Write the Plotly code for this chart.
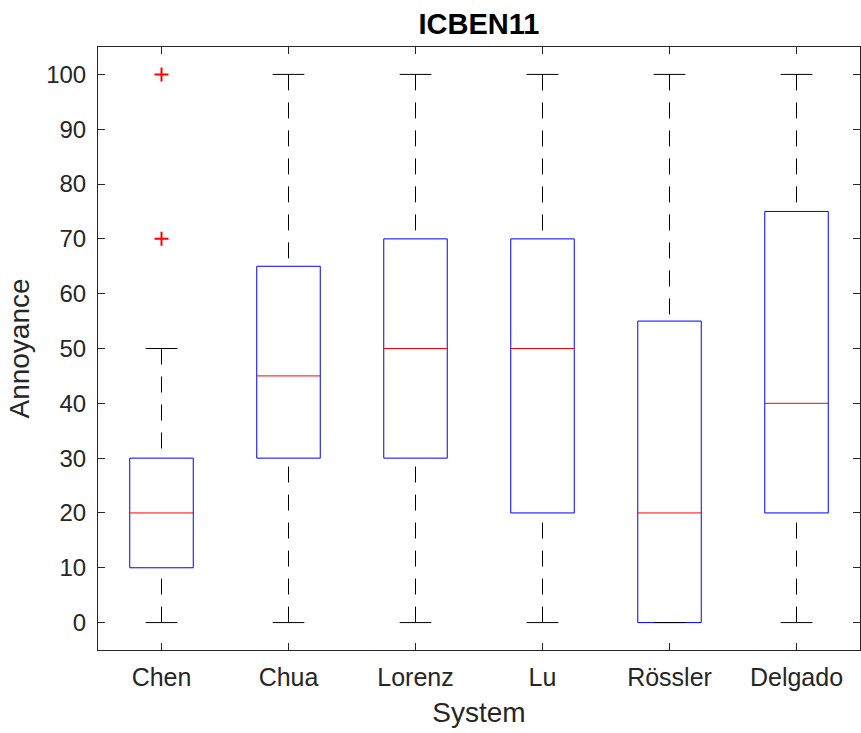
import plotly.graph_objects as go

# ---- data ----
systems = ["Chen", "Chua", "Lorenz", "Lu", "Rössler", "Delgado"]
q1 = [10, 30, 30, 20, 0, 20]
median = [20, 45, 50, 50, 20, 40]
q3 = [30, 65, 70, 70, 55, 75]
whisker_lo = [0, 0, 0, 0, 0, 0]
whisker_hi = [50, 100, 100, 100, 100, 100]
outlier_system = ["Chen", "Chen"]
outlier_value = [70, 100]
y_ticks = [0, 10, 20, 30, 40, 50, 60, 70, 80, 90, 100]

# ---- style ----
BOX_HALF = 0.25
CAP_HALF = 0.125
AX = "#262626"
FONT = "Liberation Sans, Arial, Helvetica, sans-serif"

pos = {s: i + 1 for i, s in enumerate(systems)}

bx, by = [], []
mx, my = [], []
wx, wy = [], []
cx, cy = [], []
for s, a, m, b, lo, hi in zip(systems, q1, median, q3, whisker_lo, whisker_hi):
    p = pos[s]
    bx += [p - BOX_HALF, p + BOX_HALF, p + BOX_HALF, p - BOX_HALF, p - BOX_HALF, None]
    by += [a, a, b, b, a, None]
    mx += [p - BOX_HALF, p + BOX_HALF, None]
    my += [m, m, None]
    if hi > b:
        wx += [p, p, None]
        wy += [hi, b, None]
    if lo < a:
        wx += [p, p, None]
        wy += [lo, a, None]
    cx += [p - CAP_HALF, p + CAP_HALF, None, p - CAP_HALF, p + CAP_HALF, None]
    cy += [hi, hi, None, lo, lo, None]

fig = go.Figure()
fig.add_trace(go.Scatter(x=wx, y=wy, mode="lines",
                         line=dict(color="black", width=1, dash="16px,12px"),
                         hoverinfo="skip", showlegend=False))
fig.add_trace(go.Scatter(x=bx, y=by, mode="lines",
                         line=dict(color="#0000ff", width=1),
                         hoverinfo="skip", showlegend=False))
fig.add_trace(go.Scatter(x=cx, y=cy, mode="lines",
                         line=dict(color="black", width=1),
                         hoverinfo="skip", showlegend=False))
fig.add_trace(go.Scatter(x=mx, y=my, mode="lines",
                         line=dict(color="#ff0000", width=1),
                         hoverinfo="skip", showlegend=False))
fig.add_trace(go.Scatter(x=[pos[s] for s in outlier_system], y=outlier_value,
                         mode="markers",
                         marker=dict(symbol="cross-thin", size=10,
                                     line=dict(color="#ff0000", width=2)),
                         showlegend=False))

fig.update_layout(
    width=861, height=733,
    margin=dict(l=98, r=1, t=47, b=83, autoexpand=False),
    paper_bgcolor="white", plot_bgcolor="white",
    font=dict(family=FONT, color=AX),
    title=dict(text="<b>ICBEN11</b>", x=0.5, xref="paper", xanchor="center",
               y=1 - 24 / 733, yref="container", yanchor="middle",
               font=dict(size=29, color="black", family=FONT)),
    xaxis=dict(range=[0.5, 6.5], tickvals=[pos[s] for s in systems], ticktext=systems,
               ticks="inside", ticklen=7, tickcolor=AX, showline=True, linecolor=AX,
               linewidth=1, mirror="ticks", showgrid=False, zeroline=False,
               automargin=False, ticklabelstandoff=5,
               tickfont=dict(size=25, color=AX),
               title=dict(text="System", font=dict(size=28, color=AX), standoff=12)),
    yaxis=dict(range=[-5, 105], tickvals=y_ticks,
               ticks="inside", ticklen=7, tickcolor=AX, showline=True, linecolor=AX,
               linewidth=1, mirror="ticks", showgrid=False, zeroline=False,
               automargin=False, ticklabelstandoff=6,
               tickfont=dict(size=24, color=AX),
               title=dict(text="Annoyance", font=dict(size=28, color=AX), standoff=8)),
)

fig.write_html(
    "out.html",
    config={"displayModeBar": False},
    post_script="document.body.style.margin='0';document.body.style.overflow='hidden';",
)
